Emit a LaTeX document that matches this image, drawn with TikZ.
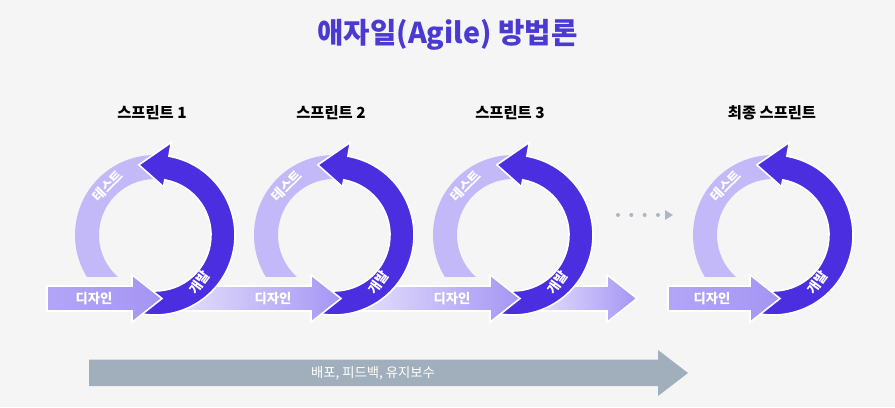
\documentclass[tikz,border=0pt]{standalone}
\usepackage{fontspec}
\setmainfont{Noto Sans CJK KR}
\usetikzlibrary{arrows.meta,positioning,backgrounds,calc}

\definecolor{bgGray}{HTML}{F5F5F5}
\definecolor{darkV}{HTML}{4A2EDF}
\definecolor{lightV}{HTML}{C4B9F8}
\definecolor{midV}{HTML}{A595F4}
\definecolor{paleV}{HTML}{E4DFFB}
\definecolor{titleV}{HTML}{4B3AD2}
\definecolor{steel}{HTML}{A1AFBC}
\definecolor{dotGray}{HTML}{A9B7C6}

\begin{document}
\begin{tikzpicture}[
    x=0.75pt, y=0.75pt,
    lightArc/.style={fill=lightV},
    darkArc/.style={fill=darkV, draw=white, line width=1.2pt},
    designShape/.style={draw=white, line width=1.2pt, left color=paleV, right color=midV},
    firstShape/.style={draw=white, line width=1.2pt, left color=midV!85!white, right color=midV},
    phaseText/.style={text=white, font=\fontsize{10}{12}\selectfont\bfseries, inner sep=0pt},
    sprintTitle/.style={text=black, font=\fontsize{11.5}{13}\selectfont\bfseries},
    dotArrow/.style={draw=dotGray, line width=3pt, line cap=round, dash pattern=on 0pt off 10pt,
        -{Triangle[length=6pt, width=7pt]}}
]

% Canvas
\fill[bgGray] (0,0) rectangle (895,407);
\useasboundingbox (0,0) rectangle (895,407);

% Ring centres
\coordinate (c1) at (155,172);
\coordinate (c2) at (334,172);
\coordinate (c3) at (513,172);
\coordinate (c4) at (773,172);

% Titles
\node[text=titleV, font=\fontsize{21.5}{24}\selectfont\bfseries] (title) at (447.5,372) {애자일(Agile) 방법론};
\node[sprintTitle] (s1) at (152,294) {스프린트 1};
\node[sprintTitle] (s2) at (331,294) {스프린트 2};
\node[sprintTitle] (s3) at (510,294) {스프린트 3};
\node[sprintTitle] (s4) at (772,294) {최종 스프린트};

% Light arcs (test)
\foreach \c in {c1,c2,c3,c4}{
    \begin{scope}[shift={(\c)}]
        \clip (-90,-42) rectangle (90,100);
        \fill[lightArc] (88:80) arc[start angle=88, end angle=255, radius=80]
            -- (255:56) arc[start angle=255, end angle=88, radius=56] -- cycle;
    \end{scope}
}

% Arrow leaving sprint 3
\path[designShape] (537,96) -- (607,96) -- (607,84.75) -- (637,108.5) -- (607,132.25) -- (607,121) -- (537,121) -- cycle;

% Sprint 3
\begin{scope}[shift={(c3)}]
    \path[darkArc] (250:80) arc[start angle=250, end angle=440, radius=80] -- (440:94) -- (463:72)
        -- (440:49) -- (440:56) arc[start angle=440, end angle=250, radius=56] -- cycle;
\end{scope}
\path[designShape] (358,96) -- (490,96) -- (490,84.75) -- (520,108.5) -- (490,132.25) -- (490,121) -- (358,121) -- cycle;

% Sprint 2
\begin{scope}[shift={(c2)}]
    \path[darkArc] (250:80) arc[start angle=250, end angle=440, radius=80] -- (440:94) -- (463:72)
        -- (440:49) -- (440:56) arc[start angle=440, end angle=250, radius=56] -- cycle;
\end{scope}
\path[designShape] (179,96) -- (311,96) -- (311,84.75) -- (341,108.5) -- (311,132.25) -- (311,121) -- (179,121) -- cycle;

% Sprint 1
\begin{scope}[shift={(c1)}]
    \path[darkArc] (250:80) arc[start angle=250, end angle=440, radius=80] -- (440:94) -- (463:72)
        -- (440:49) -- (440:56) arc[start angle=440, end angle=250, radius=56] -- cycle;
\end{scope}
\path[firstShape] (47,96) -- (132,96) -- (132,84.75) -- (162,108.5) -- (132,132.25) -- (132,121) -- (47,121) -- cycle;

% Final sprint
\begin{scope}[shift={(c4)}]
    \path[darkArc] (250:80) arc[start angle=250, end angle=440, radius=80] -- (440:94) -- (463:72)
        -- (440:49) -- (440:56) arc[start angle=440, end angle=250, radius=56] -- cycle;
\end{scope}
\path[firstShape] (668,96) -- (750,96) -- (750,84.75) -- (780,108.5) -- (750,132.25) -- (750,121) -- (668,121) -- cycle;

% Phase labels
\node[phaseText] (d1) at (94,108.5) {디자인};
\node[phaseText] (d2) at (273,108.5) {디자인};
\node[phaseText] (d3) at (452,108.5) {디자인};
\node[phaseText] (d4) at (712,108.5) {디자인};
\foreach \c/\n in {c1/1,c2/2,c3/3,c4/4}{
    \node[phaseText, rotate=46] (t\n) at ($(\c)+(134:68)$) {테스트};
    \node[phaseText, rotate=54] (g\n) at ($(\c)+(-47:65)$) {개발};
}

% Dots towards the last sprint
\coordinate (dotA) at (618,192);
\coordinate (dotB) at (673,192);
\draw[dotArrow] (dotA) -- (dotB);

% Release band
\path[fill=steel] (89,21) -- (658,21) -- (658,11) -- (688,34) -- (658,57) -- (658,47.5) -- (89,47.5) -- cycle;
\node[text=white, font=\fontsize{10}{12}\selectfont] (release) at (373,34) {배포, 피드백, 유지보수};

\end{tikzpicture}
\end{document}
